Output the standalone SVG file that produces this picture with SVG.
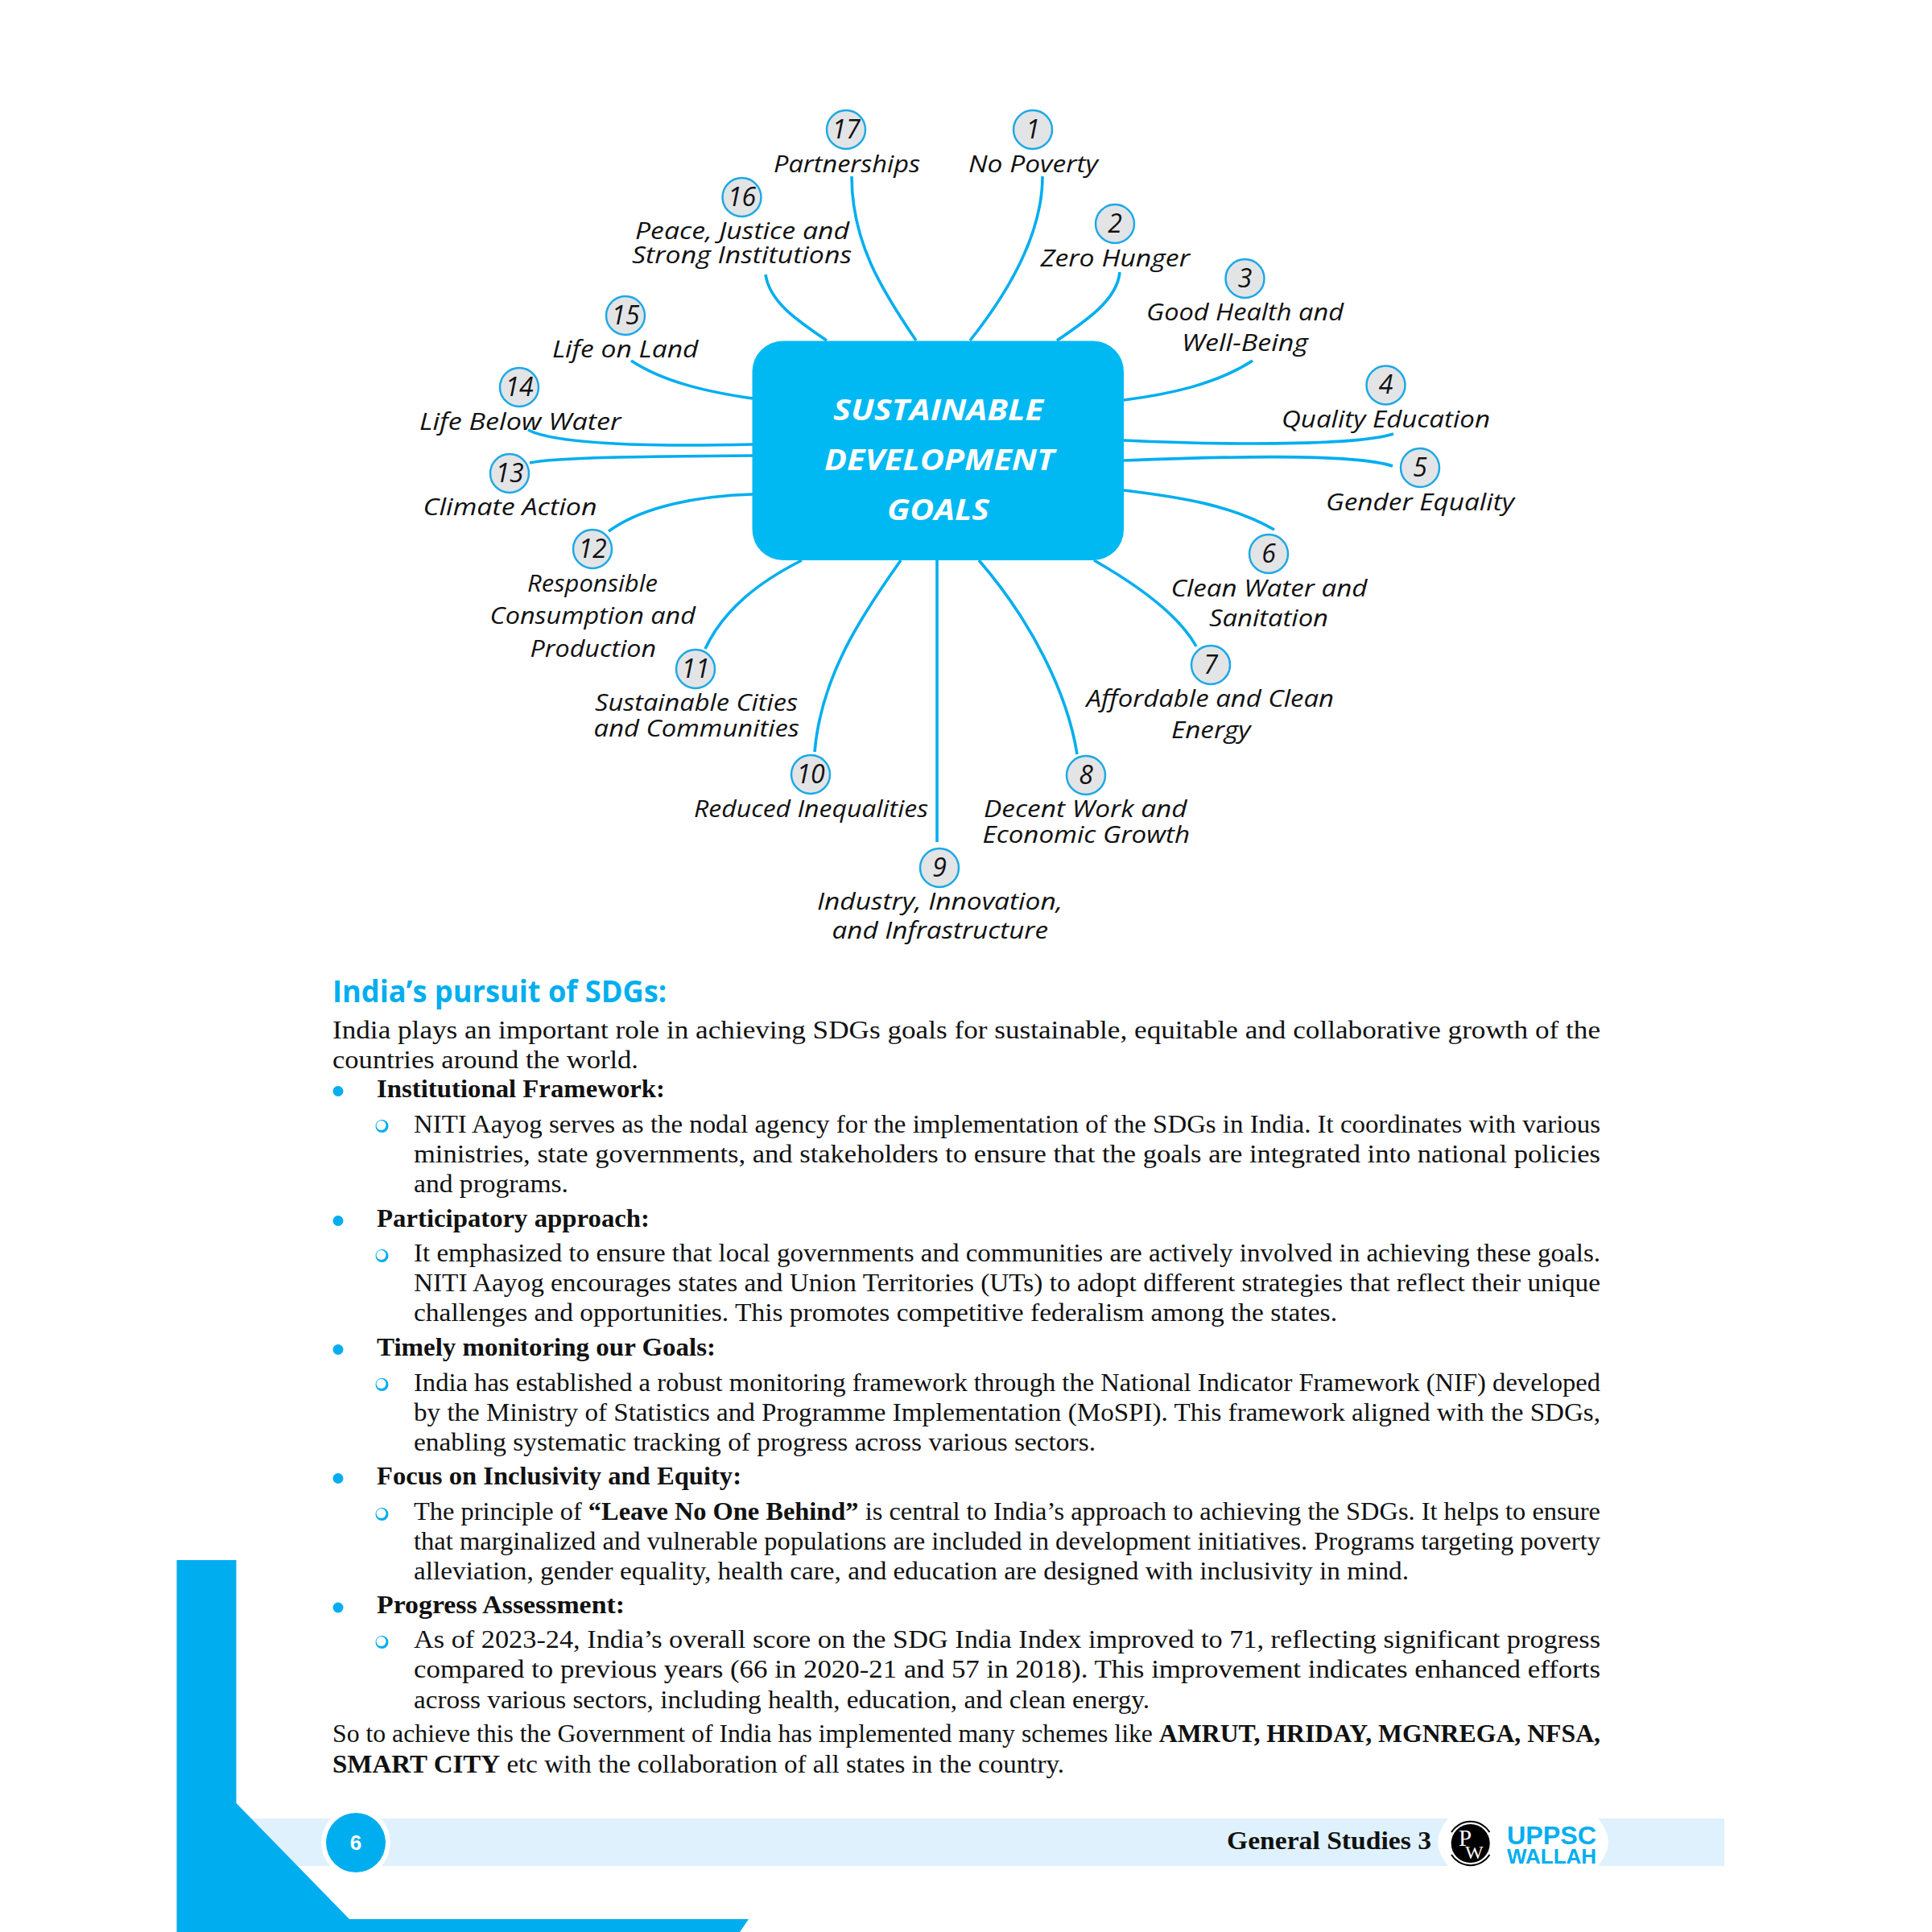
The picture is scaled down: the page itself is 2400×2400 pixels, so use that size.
<svg xmlns="http://www.w3.org/2000/svg" width="2400" height="2400" viewBox="0 0 2400 2400">
<style>
.hub{fill:#00B9F2}
.n circle{fill:#E3E4E6;stroke:#1CA9E6;stroke-width:2.5}
.num{font:italic 32px "Open Sans","DejaVu Sans",sans-serif;fill:#111;text-anchor:middle}
.lab{font:italic 30px "Open Sans","DejaVu Sans",sans-serif;fill:#111}
.ttl{font:italic bold 35px "Open Sans","DejaVu Sans",sans-serif;fill:#fff}
.c path{fill:none;stroke:#00AEEF;stroke-width:3.6;stroke-linecap:butt}
.h{font:bold 37px "Open Sans","DejaVu Sans",sans-serif;fill:#00AEEF}
.b{font:32px "Liberation Serif","DejaVu Serif",serif;fill:#111}
.s{font:bold 32px "Liberation Serif","DejaVu Serif",serif;fill:#111}
.bo{font-weight:bold}
.dot{fill:#00AEEF}
.blue{fill:#00AEEF}
.band{fill:#DFF1FC}
</style>
<defs>
<g id="ring"><circle r="8" fill="#00AEEF"/><circle cx="-1" cy="-1" r="6" fill="#fff"/></g>
</defs>
<rect width="2400" height="2400" fill="#fff"/>
<g id="connectors" class="c">
<path d="M1058,219C1058,300 1095,360 1138,423"/>
<path d="M1295,219C1295,290 1255,360 1205,423"/>
<path d="M951,341C956,375 990,398 1027,423"/>
<path d="M1391,338C1388,372 1350,398 1313,423"/>
<path d="M784,448C825,475 880,487 935,495"/>
<path d="M1556,448C1510,478 1450,490 1396,497"/>
<path d="M656,534C690,552 800,555 935,552"/>
<path d="M1396,547C1500,552 1680,555 1731,539"/>
<path d="M658,575C690,568 800,567 935,566"/>
<path d="M1396,572C1500,568 1680,562 1730,579"/>
<path d="M756,660C800,628 870,616 935,614"/>
<path d="M1396,609C1470,618 1530,628 1583,658"/>
<path d="M876,806C900,755 945,722 996,696"/>
<path d="M1359,696C1415,728 1465,765 1486,803"/>
<path d="M1012,934C1020,840 1070,765 1119,696"/>
<path d="M1164,696V1046"/>
<path d="M1338,937C1326,860 1280,770 1216,696"/>
</g>
<g id="hub">
<rect class="hub" x="934.5" y="423.5" width="461.5" height="272.5" rx="38"/>
<text class="ttl" x="1035" y="522" textLength="261" lengthAdjust="spacingAndGlyphs">SUSTAINABLE</text>
<text class="ttl" x="1024" y="584" textLength="286" lengthAdjust="spacingAndGlyphs">DEVELOPMENT</text>
<text class="ttl" x="1102" y="646" textLength="127" lengthAdjust="spacingAndGlyphs">GOALS</text>
</g>
<g id="n1" class="n"><circle cx="1283" cy="161" r="24"/><text class="num" x="1283" y="172">1</text><text class="lab" x="1203" y="214" textLength="161" lengthAdjust="spacingAndGlyphs">No Poverty</text></g>
<g id="n2" class="n"><circle cx="1385" cy="278" r="24"/><text class="num" x="1385" y="289">2</text><text class="lab" x="1292.5" y="331" textLength="185.5" lengthAdjust="spacingAndGlyphs">Zero Hunger</text></g>
<g id="n3" class="n"><circle cx="1546.5" cy="346" r="24"/><text class="num" x="1546.5" y="357">3</text><text class="lab" x="1424" y="398" textLength="245" lengthAdjust="spacingAndGlyphs">Good Health and</text><text class="lab" x="1468" y="436" textLength="157" lengthAdjust="spacingAndGlyphs">Well-Being</text></g>
<g id="n4" class="n"><circle cx="1721.5" cy="478.5" r="24"/><text class="num" x="1721.5" y="489">4</text><text class="lab" x="1592" y="531" textLength="259" lengthAdjust="spacingAndGlyphs">Quality Education</text></g>
<g id="n5" class="n"><circle cx="1764" cy="581" r="24"/><text class="num" x="1764" y="592">5</text><text class="lab" x="1647" y="634" textLength="234" lengthAdjust="spacingAndGlyphs">Gender Equality</text></g>
<g id="n6" class="n"><circle cx="1576" cy="688" r="24"/><text class="num" x="1576" y="699">6</text><text class="lab" x="1454.5" y="741" textLength="244" lengthAdjust="spacingAndGlyphs">Clean Water and</text><text class="lab" x="1502" y="778" textLength="148" lengthAdjust="spacingAndGlyphs">Sanitation</text></g>
<g id="n7" class="n"><circle cx="1504" cy="826" r="24"/><text class="num" x="1504" y="837">7</text><text class="lab" x="1349.6" y="878" textLength="307.4" lengthAdjust="spacingAndGlyphs">Affordable and Clean</text><text class="lab" x="1455" y="917" textLength="98.6" lengthAdjust="spacingAndGlyphs">Energy</text></g>
<g id="n8" class="n"><circle cx="1349" cy="963" r="24"/><text class="num" x="1349" y="974">8</text><text class="lab" x="1222" y="1015" textLength="252.6" lengthAdjust="spacingAndGlyphs">Decent Work and</text><text class="lab" x="1220.5" y="1046.5" textLength="257.5" lengthAdjust="spacingAndGlyphs">Economic Growth</text></g>
<g id="n9" class="n"><circle cx="1167" cy="1078" r="24"/><text class="num" x="1167" y="1089">9</text><text class="lab" x="1015" y="1130" textLength="305" lengthAdjust="spacingAndGlyphs">Industry, Innovation,</text><text class="lab" x="1033.5" y="1166" textLength="268.5" lengthAdjust="spacingAndGlyphs">and Infrastructure</text></g>
<g id="n10" class="n"><circle cx="1007" cy="962" r="24"/><text class="num" x="1007" y="973">10</text><text class="lab" x="862" y="1014.5" textLength="291" lengthAdjust="spacingAndGlyphs">Reduced Inequalities</text></g>
<g id="n11" class="n"><circle cx="864" cy="831" r="24"/><text class="num" x="864" y="842">11</text><text class="lab" x="739" y="883" textLength="252" lengthAdjust="spacingAndGlyphs">Sustainable Cities</text><text class="lab" x="737.6" y="915" textLength="255.4" lengthAdjust="spacingAndGlyphs">and Communities</text></g>
<g id="n12" class="n"><circle cx="736" cy="682" r="24"/><text class="num" x="736" y="693">12</text><text class="lab" x="655" y="735" textLength="162" lengthAdjust="spacingAndGlyphs">Responsible</text><text class="lab" x="608.6" y="775" textLength="255.4" lengthAdjust="spacingAndGlyphs">Consumption and</text><text class="lab" x="658.6" y="816" textLength="156.4" lengthAdjust="spacingAndGlyphs">Production</text></g>
<g id="n13" class="n"><circle cx="633" cy="588" r="24"/><text class="num" x="633" y="599">13</text><text class="lab" x="525.5" y="640" textLength="216" lengthAdjust="spacingAndGlyphs">Climate Action</text></g>
<g id="n14" class="n"><circle cx="645" cy="481" r="24"/><text class="num" x="645" y="492">14</text><text class="lab" x="521" y="534" textLength="250.5" lengthAdjust="spacingAndGlyphs">Life Below Water</text></g>
<g id="n15" class="n"><circle cx="777" cy="392" r="24"/><text class="num" x="777" y="403">15</text><text class="lab" x="686" y="444" textLength="181.5" lengthAdjust="spacingAndGlyphs">Life on Land</text></g>
<g id="n16" class="n"><circle cx="921.5" cy="245" r="24"/><text class="num" x="921.5" y="256">16</text><text class="lab" x="789" y="297" textLength="266" lengthAdjust="spacingAndGlyphs">Peace, Justice and</text><text class="lab" x="785" y="326.5" textLength="273" lengthAdjust="spacingAndGlyphs">Strong Institutions</text></g>
<g id="n17" class="n"><circle cx="1051" cy="161" r="24"/><text class="num" x="1051" y="172">17</text><text class="lab" x="961" y="214" textLength="182" lengthAdjust="spacingAndGlyphs">Partnerships</text></g>
<g id="body">
<text class="h" x="413" y="1244.5" textLength="415" lengthAdjust="spacingAndGlyphs">India’s pursuit of SDGs:</text>
<text class="b" x="413" y="1290" textLength="1575" lengthAdjust="spacingAndGlyphs">India plays an important role in achieving SDGs goals for sustainable, equitable and collaborative growth of the</text>
<text class="b" x="413" y="1327" textLength="380" lengthAdjust="spacingAndGlyphs">countries around the world.</text>
<circle class="dot" cx="420" cy="1355.5" r="6.5"/>
<text class="s" x="468" y="1363" textLength="358" lengthAdjust="spacingAndGlyphs">Institutional Framework:</text>
<use href="#ring" x="474.5" y="1399"/>
<text class="b" x="514" y="1407" textLength="1474" lengthAdjust="spacingAndGlyphs">NITI Aayog serves as the nodal agency for the implementation of the SDGs in India. It coordinates with various</text>
<text class="b" x="514" y="1444" textLength="1474" lengthAdjust="spacingAndGlyphs">ministries, state governments, and stakeholders to ensure that the goals are integrated into national policies</text>
<text class="b" x="514" y="1481" textLength="192" lengthAdjust="spacingAndGlyphs">and programs.</text>
<circle class="dot" cx="420" cy="1516.5" r="6.5"/>
<text class="s" x="468" y="1524" textLength="339" lengthAdjust="spacingAndGlyphs">Participatory approach:</text>
<use href="#ring" x="474.5" y="1560"/>
<text class="b" x="514" y="1567" textLength="1474" lengthAdjust="spacingAndGlyphs">It emphasized to ensure that local governments and communities are actively involved in achieving these goals.</text>
<text class="b" x="514" y="1604" textLength="1474" lengthAdjust="spacingAndGlyphs">NITI Aayog encourages states and Union Territories (UTs) to adopt different strategies that reflect their unique</text>
<text class="b" x="514" y="1641" textLength="1147" lengthAdjust="spacingAndGlyphs">challenges and opportunities. This promotes competitive federalism among the states.</text>
<circle class="dot" cx="420" cy="1676.5" r="6.5"/>
<text class="s" x="468" y="1684" textLength="421" lengthAdjust="spacingAndGlyphs">Timely monitoring our Goals:</text>
<use href="#ring" x="474.5" y="1720"/>
<text class="b" x="514" y="1728" textLength="1474" lengthAdjust="spacingAndGlyphs">India has established a robust monitoring framework through the National Indicator Framework (NIF) developed</text>
<text class="b" x="514" y="1765" textLength="1474" lengthAdjust="spacingAndGlyphs">by the Ministry of Statistics and Programme Implementation (MoSPI). This framework aligned with the SDGs,</text>
<text class="b" x="514" y="1802" textLength="847" lengthAdjust="spacingAndGlyphs">enabling systematic tracking of progress across various sectors.</text>
<circle class="dot" cx="420" cy="1836.5" r="6.5"/>
<text class="s" x="468" y="1844" textLength="453" lengthAdjust="spacingAndGlyphs">Focus on Inclusivity and Equity:</text>
<use href="#ring" x="474.5" y="1881"/>
<text class="b" x="514" y="1888" textLength="1474" lengthAdjust="spacingAndGlyphs">The principle of <tspan class="bo">“Leave No One Behind”</tspan> is central to India’s approach to achieving the SDGs. It helps to ensure</text>
<text class="b" x="514" y="1925" textLength="1474" lengthAdjust="spacingAndGlyphs">that marginalized and vulnerable populations are included in development initiatives. Programs targeting poverty</text>
<text class="b" x="514" y="1962" textLength="1236" lengthAdjust="spacingAndGlyphs">alleviation, gender equality, health care, and education are designed with inclusivity in mind.</text>
<circle class="dot" cx="420" cy="1997" r="6.5"/>
<text class="s" x="468" y="2004" textLength="308" lengthAdjust="spacingAndGlyphs">Progress Assessment:</text>
<use href="#ring" x="474.5" y="2040"/>
<text class="b" x="514" y="2047" textLength="1474" lengthAdjust="spacingAndGlyphs">As of 2023-24, India’s overall score on the SDG India Index improved to 71, reflecting significant progress</text>
<text class="b" x="514" y="2084" textLength="1474" lengthAdjust="spacingAndGlyphs">compared to previous years (66 in 2020-21 and 57 in 2018). This improvement indicates enhanced efforts</text>
<text class="b" x="514" y="2121.5" textLength="914" lengthAdjust="spacingAndGlyphs">across various sectors, including health, education, and clean energy.</text>
<text class="b" x="413" y="2164" textLength="1575" lengthAdjust="spacingAndGlyphs">So to achieve this the Government of India has implemented many schemes like <tspan class="bo">AMRUT, HRIDAY, MGNREGA, NFSA,</tspan></text>
<text class="b" x="413" y="2202" textLength="909" lengthAdjust="spacingAndGlyphs"><tspan class="bo">SMART CITY</tspan> etc with the collaboration of all states in the country.</text>
</g>
<g id="footer">
<rect class="band" x="293" y="2259" width="1849" height="59"/>
<path class="blue" d="M219.5,1938H293.5V2240L434,2384H930L919,2400H219.5Z"/>
<circle cx="442" cy="2289" r="43" fill="#fff"/>
<circle class="blue" cx="442" cy="2289" r="37"/>
<text x="442" y="2298" text-anchor="middle" font-family="'Liberation Sans',sans-serif" font-weight="bold" font-size="26" fill="#fff">6</text>
<text class="s" x="1524" y="2297" textLength="254" lengthAdjust="spacingAndGlyphs">General Studies 3</text>
<path d="M1787,2259H1997V2318H1787Z" fill="#fff" opacity="0"/>
<path d="M1799,2259H1985C2002,2280 2002,2297 1985,2318H1799C1782,2297 1782,2280 1799,2259Z" fill="#fff"/>
<circle cx="1826.7" cy="2290" r="24" fill="#000"/>
<path d="M1803,2276A28,28 0 0 1 1850.5,2276M1803,2304A28,28 0 0 0 1850.5,2304" fill="none" stroke="#000" stroke-width="2"/>
<text x="1812" y="2293" font-family="'Liberation Serif',serif" font-size="29" fill="#fff">P</text>
<text x="1820" y="2309" font-family="'Liberation Serif',serif" font-size="24" fill="#fff">W</text>
<text x="1872" y="2291" font-family="'Liberation Sans',sans-serif" font-weight="bold" font-size="32" fill="#00AEEF" textLength="111" lengthAdjust="spacingAndGlyphs">UPPSC</text>
<text x="1872" y="2315" font-family="'Liberation Sans',sans-serif" font-weight="bold" font-size="25" fill="#00AEEF" textLength="111" lengthAdjust="spacingAndGlyphs">WALLAH</text>
</g>
</svg>
